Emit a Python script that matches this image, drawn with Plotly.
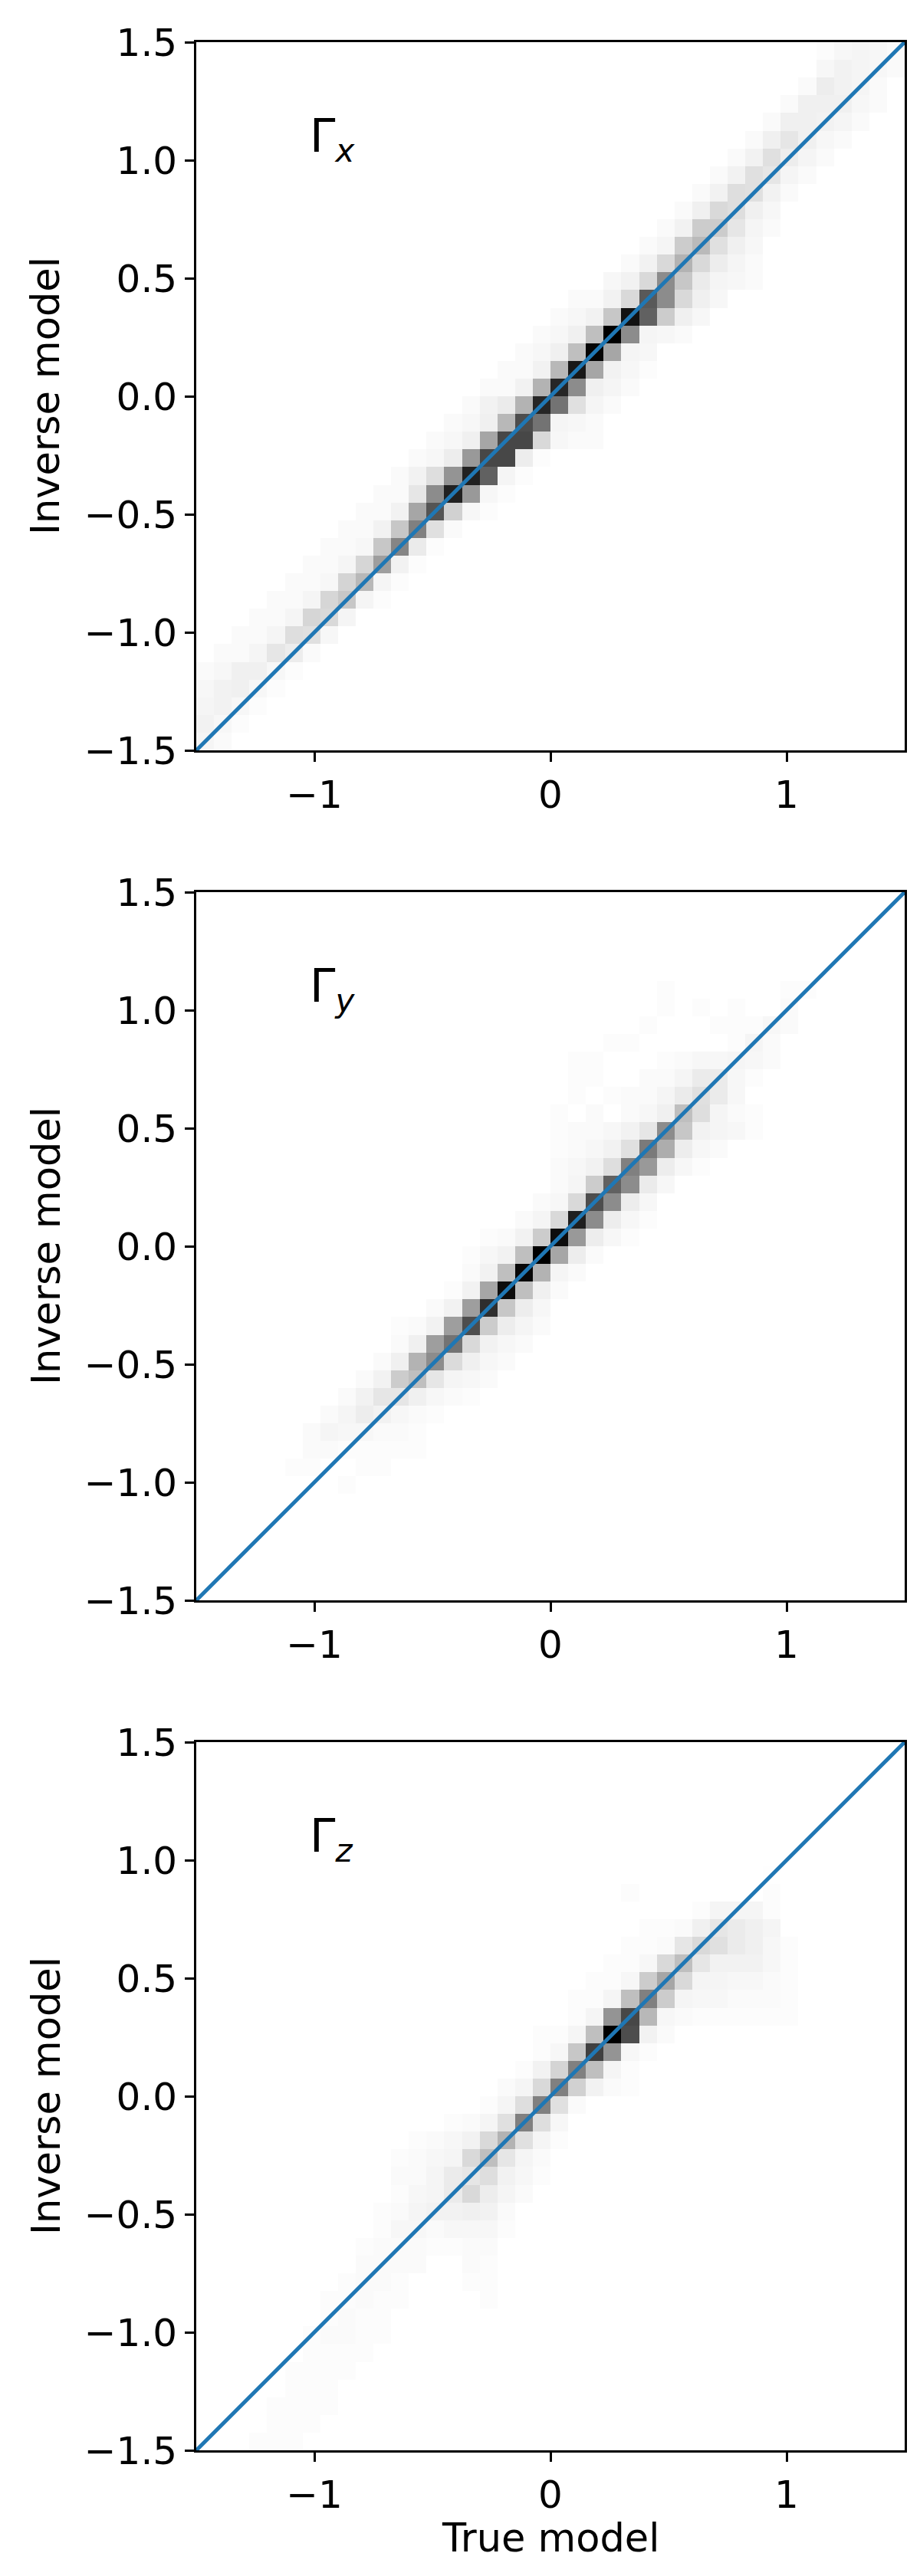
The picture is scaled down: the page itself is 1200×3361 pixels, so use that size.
import numpy as np
import plotly.graph_objects as go

# ---------------- data (2-D histogram densities) -------------
# each entry: [row index (inverse-model bin), first column index (true-model bin), values...]
N_BINS = 40
AX_MIN, AX_MAX = -1.5, 1.5

gamma_x_rows = [
    [0, 0, [0.04, 0.02]],
    [1, 0, [0.05, 0.03, 0.01]],
    [2, 0, [0.04, 0.05, 0.03, 0.01]],
    [3, 0, [0.03, 0.05, 0.06, 0.03, 0.01]],
    [4, 0, [0.02, 0.03, 0.06, 0.06, 0.03, 0.01]],
    [5, 1, [0.02, 0.02, 0.04, 0.10, 0.07, 0.02]],
    [6, 2, [0.02, 0.02, 0.04, 0.13, 0.12, 0.03]],
    [7, 3, [0.02, 0.02, 0.04, 0.16, 0.15, 0.04]],
    [8, 4, [0.02, 0.02, 0.04, 0.16, 0.22, 0.04, 0.01]],
    [9, 5, [0.02, 0.02, 0.03, 0.17, 0.28, 0.04, 0.01]],
    [10, 6, [0.02, 0.02, 0.04, 0.16, 0.38, 0.05, 0.01]],
    [11, 7, [0.02, 0.02, 0.03, 0.22, 0.48, 0.08, 0.01]],
    [12, 8, [0.02, 0.02, 0.05, 0.22, 0.50, 0.12, 0.02]],
    [13, 9, [0.02, 0.02, 0.05, 0.35, 0.67, 0.18, 0.03, 0.01]],
    [14, 10, [0.02, 0.02, 0.10, 0.45, 0.87, 0.40, 0.03, 0.01]],
    [15, 11, [0.02, 0.05, 0.13, 0.42, 0.87, 0.62, 0.04, 0.01]],
    [16, 12, [0.02, 0.03, 0.07, 0.40, 0.72, 0.72, 0.07, 0.01]],
    [17, 13, [0.02, 0.03, 0.06, 0.35, 0.72, 0.72, 0.15, 0.03, 0.02, 0.02]],
    [18, 14, [0.02, 0.03, 0.06, 0.28, 0.70, 0.55, 0.04, 0.03, 0.02]],
    [19, 15, [0.02, 0.05, 0.08, 0.30, 0.85, 0.55, 0.12, 0.04, 0.02]],
    [20, 16, [0.02, 0.02, 0.05, 0.30, 0.85, 0.45, 0.06, 0.04, 0.02]],
    [21, 17, [0.02, 0.02, 0.05, 0.28, 0.90, 0.35, 0.05, 0.03, 0.01]],
    [22, 18, [0.02, 0.03, 0.06, 0.25, 0.98, 0.35, 0.04, 0.03]],
    [23, 19, [0.02, 0.03, 0.06, 0.25, 1.00, 0.45, 0.04, 0.03, 0.02]],
    [24, 20, [0.02, 0.03, 0.05, 0.22, 0.93, 0.62, 0.20, 0.06, 0.03]],
    [25, 21, [0.02, 0.02, 0.05, 0.15, 0.65, 0.45, 0.15, 0.06, 0.03]],
    [26, 23, [0.03, 0.05, 0.15, 0.45, 0.22, 0.08, 0.04, 0.03, 0.02]],
    [27, 24, [0.02, 0.05, 0.15, 0.30, 0.15, 0.07, 0.04, 0.02]],
    [28, 25, [0.02, 0.04, 0.20, 0.27, 0.12, 0.06, 0.03]],
    [29, 26, [0.02, 0.05, 0.20, 0.20, 0.10, 0.04, 0.02]],
    [30, 27, [0.02, 0.06, 0.15, 0.13, 0.06, 0.03]],
    [31, 28, [0.02, 0.05, 0.13, 0.12, 0.05, 0.02]],
    [32, 29, [0.02, 0.05, 0.12, 0.10, 0.04, 0.02]],
    [33, 30, [0.02, 0.05, 0.12, 0.07, 0.04, 0.02]],
    [34, 31, [0.02, 0.06, 0.10, 0.06, 0.03, 0.02]],
    [35, 32, [0.02, 0.06, 0.06, 0.05, 0.04, 0.02]],
    [36, 33, [0.02, 0.06, 0.06, 0.06, 0.03, 0.02]],
    [37, 34, [0.02, 0.07, 0.05, 0.04, 0.02]],
    [38, 35, [0.03, 0.05, 0.04, 0.03, 0.02]],
    [39, 35, [0.01, 0.03, 0.04, 0.03, 0.02]],
]

gamma_y_rows = [
    [6, 8, [0.01]],
    [7, 5, [0.01, 0.01, 0.0, 0.0, 0.01, 0.01]],
    [8, 6, [0.02, 0.02, 0.01, 0.01, 0.01, 0.01, 0.01]],
    [9, 6, [0.02, 0.04, 0.03, 0.03, 0.02, 0.02, 0.01]],
    [10, 7, [0.02, 0.04, 0.07, 0.05, 0.03, 0.02, 0.01]],
    [11, 8, [0.02, 0.05, 0.10, 0.10, 0.06, 0.03, 0.02, 0.01]],
    [12, 9, [0.02, 0.05, 0.20, 0.25, 0.10, 0.04, 0.03, 0.02]],
    [13, 10, [0.02, 0.06, 0.30, 0.45, 0.14, 0.06, 0.03, 0.02]],
    [14, 11, [0.02, 0.06, 0.38, 0.55, 0.15, 0.05, 0.03, 0.02]],
    [15, 11, [0.01, 0.02, 0.05, 0.38, 0.70, 0.20, 0.07, 0.04, 0.02]],
    [16, 13, [0.02, 0.05, 0.38, 0.82, 0.22, 0.07, 0.03]],
    [17, 14, [0.01, 0.05, 0.35, 0.95, 0.25, 0.06, 0.02]],
    [18, 15, [0.02, 0.05, 0.25, 0.97, 0.30, 0.04, 0.02]],
    [19, 15, [0.01, 0.03, 0.05, 0.25, 1.00, 0.35, 0.07, 0.02]],
    [20, 16, [0.01, 0.02, 0.05, 0.20, 0.95, 0.40, 0.07, 0.03, 0.01]],
    [21, 18, [0.02, 0.04, 0.15, 0.88, 0.45, 0.07, 0.03, 0.01]],
    [22, 19, [0.02, 0.03, 0.15, 0.70, 0.45, 0.07, 0.03]],
    [23, 20, [0.02, 0.04, 0.20, 0.62, 0.45, 0.08, 0.03]],
    [24, 20, [0.02, 0.03, 0.05, 0.13, 0.50, 0.40, 0.07, 0.03, 0.01]],
    [25, 20, [0.01, 0.02, 0.03, 0.05, 0.12, 0.52, 0.32, 0.07, 0.03, 0.02]],
    [26, 20, [0.01, 0.02, 0.02, 0.03, 0.05, 0.10, 0.45, 0.22, 0.05, 0.04, 0.03, 0.01]],
    [27, 20, [0.01, 0.0, 0.02, 0.0, 0.02, 0.03, 0.06, 0.25, 0.13, 0.04, 0.02, 0.01]],
    [28, 21, [0.01, 0.0, 0.01, 0.02, 0.02, 0.04, 0.08, 0.12, 0.08, 0.03]],
    [29, 21, [0.01, 0.01, 0.0, 0.0, 0.02, 0.02, 0.04, 0.08, 0.08, 0.03, 0.01]],
    [30, 21, [0.01, 0.01, 0.0, 0.0, 0.0, 0.01, 0.02, 0.03, 0.03, 0.04, 0.03, 0.02]],
    [31, 23, [0.01, 0.01, 0.0, 0.0, 0.0, 0.0, 0.0, 0.01, 0.04, 0.02]],
    [32, 25, [0.01, 0.0, 0.0, 0.0, 0.01, 0.01, 0.01, 0.03, 0.02]],
    [33, 26, [0.01, 0.0, 0.01, 0.0, 0.01, 0.0, 0.0, 0.02]],
    [34, 26, [0.01, 0.0, 0.0, 0.0, 0.0, 0.0, 0.0, 0.01, 0.01]],
]

gamma_z_rows = [
    [0, 3, [0.01, 0.01, 0.01]],
    [1, 4, [0.01, 0.01, 0.01]],
    [2, 4, [0.01, 0.01, 0.01, 0.01]],
    [3, 5, [0.01, 0.01, 0.01]],
    [4, 5, [0.01, 0.01, 0.01, 0.01]],
    [5, 6, [0.01, 0.01, 0.01, 0.01]],
    [6, 6, [0.01, 0.02, 0.02, 0.01, 0.01]],
    [7, 7, [0.01, 0.02, 0.01, 0.01]],
    [8, 7, [0.01, 0.01, 0.02, 0.01, 0.01, 0.0, 0.0, 0.0, 0.0, 0.01]],
    [9, 8, [0.01, 0.02, 0.02, 0.01, 0.0, 0.0, 0.0, 0.01, 0.01]],
    [10, 9, [0.02, 0.02, 0.02, 0.02, 0.0, 0.0, 0.02, 0.01]],
    [11, 9, [0.01, 0.02, 0.02, 0.02, 0.01, 0.01, 0.02, 0.02]],
    [12, 10, [0.01, 0.03, 0.03, 0.02, 0.03, 0.03, 0.03, 0.01]],
    [13, 10, [0.01, 0.02, 0.04, 0.05, 0.05, 0.06, 0.05, 0.02]],
    [14, 11, [0.01, 0.03, 0.04, 0.08, 0.15, 0.07, 0.04, 0.02]],
    [15, 11, [0.02, 0.02, 0.04, 0.08, 0.10, 0.13, 0.05, 0.03, 0.01]],
    [16, 11, [0.01, 0.02, 0.03, 0.04, 0.15, 0.25, 0.10, 0.04, 0.02]],
    [17, 12, [0.01, 0.02, 0.03, 0.05, 0.15, 0.30, 0.12, 0.04, 0.01]],
    [18, 14, [0.01, 0.02, 0.04, 0.12, 0.50, 0.13, 0.03]],
    [19, 16, [0.01, 0.04, 0.13, 0.50, 0.12, 0.02]],
    [20, 17, [0.02, 0.04, 0.15, 0.50, 0.18, 0.05, 0.02, 0.01]],
    [21, 18, [0.01, 0.05, 0.17, 0.50, 0.25, 0.04, 0.01]],
    [22, 19, [0.01, 0.03, 0.22, 0.75, 0.42, 0.03, 0.01]],
    [23, 19, [0.01, 0.01, 0.04, 0.25, 1.00, 0.70, 0.05, 0.02]],
    [24, 21, [0.01, 0.04, 0.42, 0.72, 0.28, 0.03, 0.02, 0.01, 0.01, 0.01, 0.01, 0.01, 0.01]],
    [25, 21, [0.01, 0.01, 0.04, 0.25, 0.50, 0.20, 0.04, 0.03, 0.03, 0.02, 0.02, 0.02, 0.01]],
    [26, 22, [0.01, 0.01, 0.03, 0.20, 0.35, 0.15, 0.04, 0.04, 0.03, 0.03, 0.02, 0.01]],
    [27, 23, [0.01, 0.01, 0.03, 0.15, 0.25, 0.10, 0.05, 0.05, 0.05, 0.03, 0.01]],
    [28, 24, [0.01, 0.01, 0.02, 0.10, 0.15, 0.12, 0.08, 0.06, 0.03, 0.01]],
    [29, 25, [0.01, 0.01, 0.02, 0.06, 0.10, 0.08, 0.06, 0.04]],
    [30, 28, [0.01, 0.04, 0.04, 0.04, 0.01]],
    [31, 24, [0.01, 0.0, 0.0, 0.0, 0.0, 0.0, 0.0, 0.0, 0.01]],
    [32, 32, [0.005]],
]

panel_labels = ["x", "y", "z"]
diag_x = [-1.5, 1.5]
diag_y = [-1.5, 1.5]
x_tick_vals = [-1, 0, 1]
x_tick_text = ["\u22121", "0", "1"]
y_tick_vals = [-1.5, -1.0, -0.5, 0.0, 0.5, 1.0, 1.5]
y_tick_text = ["\u22121.5", "\u22121.0", "\u22120.5", "0.0", "0.5", "1.0", "1.5"]
label_pos = (-1.0, 1.0)

# ---------------- figure ----------------
W, H = 1200, 3361
ML, MR, MT, MB = 248, 28, 47, 172
PH = 924
GAP = 185
plot_h = H - MT - MB

edges = np.linspace(AX_MIN, AX_MAX, N_BINS + 1)
centers = 0.5 * (edges[:-1] + edges[1:])


def build(rows):
    z = np.zeros((N_BINS, N_BINS))
    for r, c0, vals in rows:
        z[r, c0:c0 + len(vals)] = vals
    return z


fig = go.Figure()
FONT = "DejaVu Sans, Arial, sans-serif"
grey = [[0.0, "#ffffff"], [1.0, "#000000"]]

for i, rows in enumerate([gamma_x_rows, gamma_y_rows, gamma_z_rows]):
    sfx = "" if i == 0 else str(i + 1)
    fig.add_trace(go.Heatmap(
        x=centers, y=centers, z=build(rows), colorscale=grey, zmin=0, zmax=1,
        showscale=False, xaxis="x" + sfx, yaxis="y" + sfx, hoverinfo="skip"))
    fig.add_trace(go.Scatter(
        x=diag_x, y=diag_y, mode="lines", line=dict(color="#1f77b4", width=5),
        xaxis="x" + sfx, yaxis="y" + sfx, showlegend=False, hoverinfo="skip"))

axis_common = dict(
    range=[AX_MIN, AX_MAX], showgrid=False, zeroline=False, showline=True,
    mirror=True, linecolor="black", linewidth=2.7, ticks="outside",
    ticklen=12, tickwidth=2.7, tickcolor="black",
    tickfont=dict(family=FONT, size=50, color="black"),
)

layout = dict(
    width=W, height=H, margin=dict(l=ML, r=MR, t=MT, b=MB),
    paper_bgcolor="white", plot_bgcolor="white", showlegend=False,
    font=dict(family=FONT, color="black"),
)

annotations = []
for i in range(3):
    sfx = "" if i == 0 else str(i + 1)
    top_px = i * (PH + GAP)
    d_top = 1 - top_px / plot_h
    d_bot = 1 - (top_px + PH) / plot_h
    layout["xaxis" + sfx] = dict(axis_common, domain=[0, 1], anchor="y" + sfx,
                                 tickvals=x_tick_vals, ticktext=x_tick_text)
    layout["yaxis" + sfx] = dict(axis_common, domain=[max(d_bot, 0), min(d_top, 1)],
                                 anchor="x" + sfx, tickvals=y_tick_vals, ticktext=y_tick_text)
    annotations.append(dict(
        x=label_pos[0], y=label_pos[1], xref="x" + sfx, yref="y" + sfx,
        text="\u0393<sub><i>" + panel_labels[i] + "</i></sub>",
        showarrow=False, xanchor="left", yanchor="bottom", yshift=-14, xshift=-8,
        font=dict(family=FONT, size=60, color="black")))
    annotations.append(dict(
        x=0, y=(d_top + d_bot) / 2, xref="paper", yref="paper",
        text="Inverse model", textangle=-90, showarrow=False,
        xanchor="center", yanchor="middle", xshift=-196,
        font=dict(family=FONT, size=51, color="black")))

annotations.append(dict(
    x=0.5, y=0, xref="paper", yref="paper", text="True model", showarrow=False,
    xanchor="center", yanchor="middle", yshift=-114,
    font=dict(family=FONT, size=51, color="black")))

layout["annotations"] = annotations
fig.update_layout(**layout)
fig.write_html("out.html")
